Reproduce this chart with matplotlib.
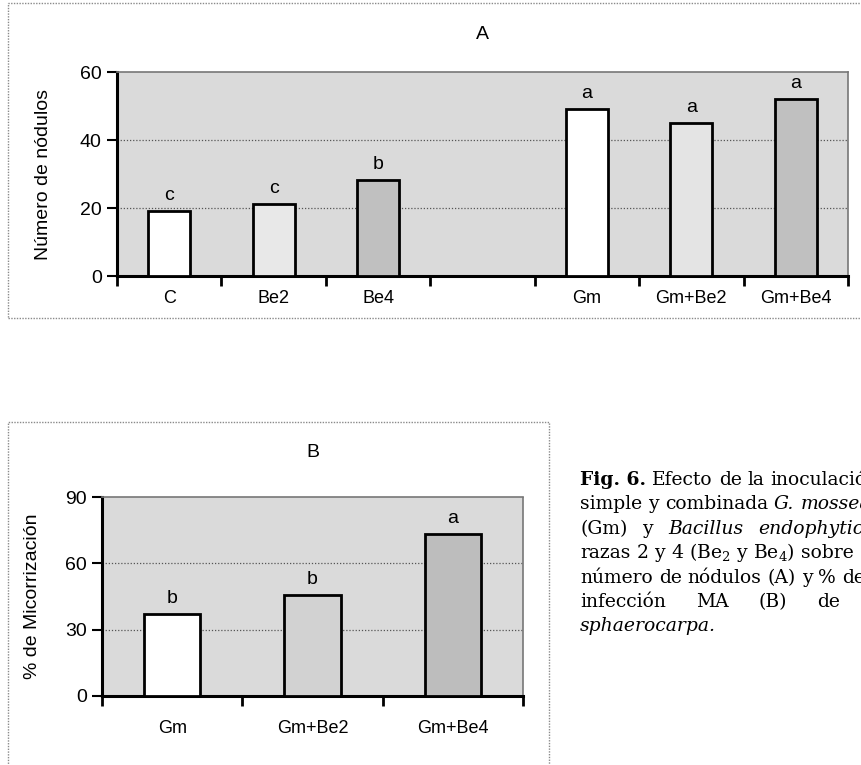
import numpy as np
import matplotlib
matplotlib.use('Agg')
import matplotlib.pyplot as plt
from matplotlib.patches import Rectangle

# data
labels_a = ['C', 'Be2', 'Be4', '', 'Gm', 'Gm+Be2', 'Gm+Be4']
nodulos = [19, 21.2, 28.2, np.nan, 49.2, 45.1, 52]
letras_a = ['c', 'c', 'b', '', 'a', 'a', 'a']
colores_a = ['white', '#e8e8e8', '#c0c0c0', 'white', 'white', '#e4e4e4', '#c0c0c0']

labels_b = ['Gm', 'Gm+Be2', 'Gm+Be4']
micorrizacion = [37.2, 45.6, 73.2]
letras_b = ['b', 'b', 'a']
colores_b = ['white', '#d2d2d2', '#bdbdbd']

caption_lines = [
    [('Fig. 6.', 'bold'), ('Efecto', ''), ('de', ''), ('la', ''), ('inoculación', '')],
    [('simple', ''), ('y', ''), ('combinada', ''), ('G.', 'italic'), ('mosseae', 'italic')],
    [('(Gm)', ''), ('y', ''), ('Bacillus', 'italic'), ('endophyticus', 'italic')],
    [('razas', ''), ('2', ''), ('y', ''), ('4', ''), ('(Be$_2$', ''), ('y', ''), ('Be$_4$)', ''), ('sobre', ''), ('el', '')],
    [('número', ''), ('de', ''), ('nódulos', ''), ('(A)', ''), ('y', ''), ('%', ''), ('de', '')],
    [('infección', ''), ('MA', ''), ('(B)', ''), ('de', ''), ('P.', 'italic')],
    [('sphaerocarpa.', 'italic')],
]
caption_justify = [False, False, True, False, False, True, False]

plt.rcParams['font.family'] = ['Liberation Sans', 'DejaVu Sans']
plt.rcParams['mathtext.fontset'] = 'custom'
plt.rcParams['mathtext.rm'] = 'DejaVu Serif'

W, H = 861, 765
fig = plt.figure(figsize=(W / 100, H / 100), dpi=100)


def px_axes(x0, y0, x1, y1):
    return fig.add_axes([x0 / W, 1 - y1 / H, (x1 - x0) / W, (y1 - y0) / H])


def frame(x0, y0, x1, y1):
    fig.patches.append(Rectangle((x0 / W, 1 - y1 / H), (x1 - x0) / W, (y1 - y0) / H,
                                 transform=fig.transFigure, fill=False,
                                 edgecolor='#8a8a8a', linewidth=1.0,
                                 linestyle=(0, (1, 1))))


def bar_panel(ax, labels, values, letters, colors, ymax, step, ylabel, title,
              xpad, ypad, tpad):
    x = np.arange(len(labels))
    for xi, v, c, let in zip(x, values, colors, letters):
        if np.isnan(v):
            continue
        ax.bar(xi, v, width=0.4, color=c, edgecolor='black', linewidth=2.0, zorder=3)
        ax.annotate(let, (xi, v), xytext=(0, 5), textcoords='offset points',
                    ha='center', va='bottom', fontsize=14)
    ax.set_xlim(-0.5, len(labels) - 0.5)
    ax.set_ylim(0, ymax)
    ax.set_facecolor('#dadada')
    ax.set_yticks(np.arange(0, ymax + 1, step))
    ax.set_xticks(np.arange(-0.5, len(labels)))
    ax.set_xticklabels([])
    ax.set_xticks(x, minor=True)
    ax.set_xticklabels(labels, minor=True, fontsize=13)
    ax.tick_params(axis='x', which='minor', length=0, pad=xpad)
    ax.tick_params(axis='x', which='major', length=7, width=2, direction='out')
    ax.tick_params(axis='y', length=7, width=1.5, direction='out', labelsize=14, pad=4)
    for yv in np.arange(step, ymax, step):
        ax.axhline(yv, color='#555555', linewidth=0.9, linestyle=(0, (1, 1.5)), zorder=1)
    for s in ['left', 'bottom']:
        ax.spines[s].set_linewidth(2.2)
    for s in ['top', 'right']:
        ax.spines[s].set_color('#777777')
        ax.spines[s].set_linestyle((0, (1, 1)))
        ax.spines[s].set_linewidth(1.2)
    ax.set_ylabel(ylabel, fontsize=14, labelpad=ypad)
    ax.set_title(title, fontsize=14, pad=tpad)


frame(8, 3, 880, 318)
ax_a = px_axes(117, 72, 848, 276)
bar_panel(ax_a, labels_a, nodulos, letras_a, colores_a, 60, 20, 'Número de nódulos', 'A',
          xpad=10, ypad=20, tpad=24)

frame(8, 422, 549, 780)
ax_b = px_axes(102, 497, 523, 696)
bar_panel(ax_b, labels_b, micorrizacion, letras_b, colores_b, 90, 30, '% de Micorrización', 'B',
          xpad=17, ypad=17, tpad=29)

# figure caption; some lines are justified to a column edge past the right border
renderer = fig.canvas.get_renderer()
col_left, col_right = 580, 885
serif = ['DejaVu Serif']
for i, line in enumerate(caption_lines):
    y = 1 - (485 + i * 24.4) / H
    texts = []
    for word, style in line:
        t = fig.text(0, y, word, fontsize=13.5, family=serif, va='baseline',
                     fontweight='bold' if style == 'bold' else 'normal',
                     fontstyle='italic' if style == 'italic' else 'normal')
        texts.append(t)
    widths = [t.get_window_extent(renderer).width for t in texts]
    gap = 6.0
    if caption_justify[i] and len(texts) > 1:
        gap = max(gap, (col_right - col_left - sum(widths)) / (len(texts) - 1))
    xpos = col_left
    for t, w in zip(texts, widths):
        t.set_x(xpos / W)
        xpos += w + gap

fig.savefig('out.png', dpi=100)
